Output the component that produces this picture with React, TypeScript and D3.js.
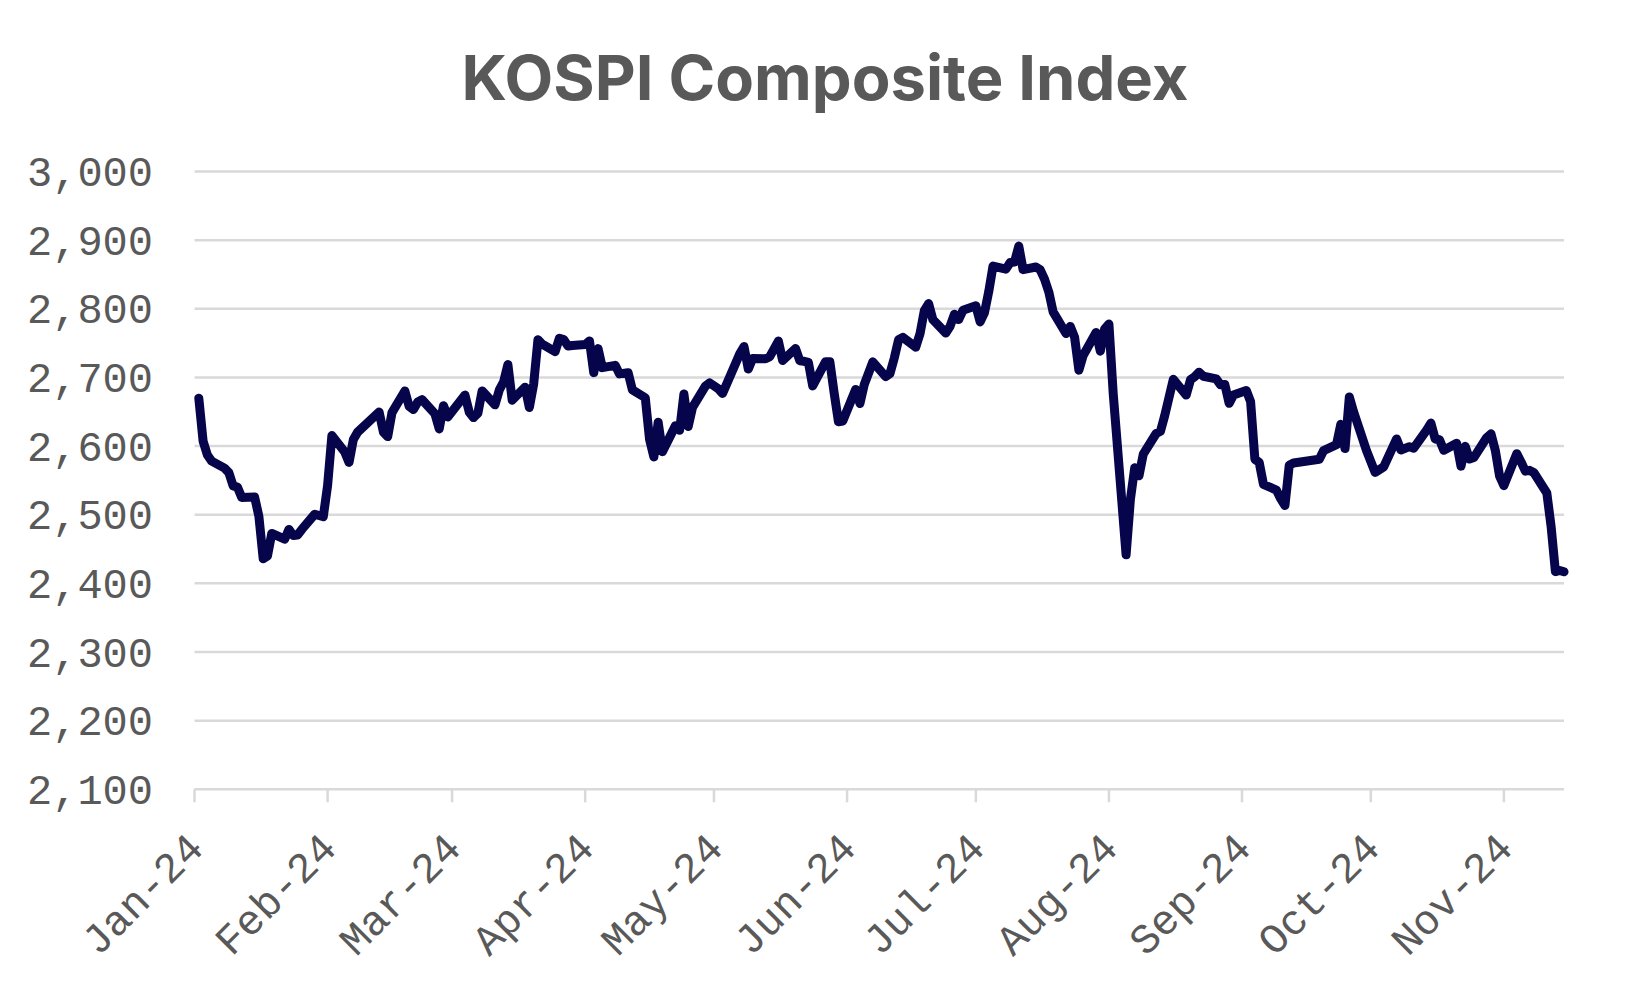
import React from "react";
import * as d3 from "d3";

// KOSPI daily closes, 2024 — [day of month, close]
const jan: [number, number][] = [
  [2, 2669.81], [3, 2607.31], [4, 2587.02], [5, 2578.08], [8, 2567.82], [9, 2561.24], [10, 2541.98],
  [11, 2540.27], [12, 2525.05], [15, 2525.99], [16, 2497.59], [17, 2435.9], [18, 2440.04], [19, 2472.74],
  [22, 2464.35], [23, 2478.61], [24, 2469.69], [25, 2470.34], [26, 2478.56], [29, 2500.65], [30, 2498.81],
  [31, 2497.09],
];
const feb: [number, number][] = [
  [1, 2542.46], [2, 2615.31], [5, 2591.31], [6, 2576.2], [7, 2609.58], [8, 2620.32], [13, 2649.64],
  [14, 2620.42], [15, 2613.8], [16, 2648.76], [19, 2680.26], [20, 2657.79], [21, 2653.31], [22, 2664.27],
  [23, 2667.7], [26, 2647.08], [27, 2625.05], [28, 2658.84], [29, 2642.36],
];
const mar: [number, number][] = [
  [4, 2674.27], [5, 2649.4], [6, 2641.49], [7, 2647.62], [8, 2680.35], [11, 2660.07], [12, 2681.81],
  [13, 2693.57], [14, 2718.76], [15, 2666.84], [18, 2685.84], [19, 2656.17], [20, 2690.14], [21, 2754.86],
  [22, 2748.56], [25, 2737.57], [26, 2757.09], [27, 2755.11], [28, 2745.82], [29, 2746.63],
];
const apr: [number, number][] = [
  [1, 2747.86], [2, 2753.16], [3, 2706.97], [4, 2742.0], [5, 2714.21], [8, 2717.65], [9, 2705.16],
  [11, 2706.96], [12, 2681.82], [15, 2670.43], [16, 2609.63], [17, 2584.18], [18, 2634.7], [19, 2591.86],
  [22, 2629.44], [23, 2623.02], [24, 2675.75], [25, 2628.62], [26, 2656.33], [29, 2687.44], [30, 2692.06],
];
const may: [number, number][] = [
  [2, 2683.65], [3, 2676.63], [7, 2734.36], [8, 2745.05], [9, 2712.14], [10, 2727.63], [13, 2727.21],
  [14, 2730.34], [16, 2753.0], [17, 2724.62], [20, 2742.14], [21, 2724.18], [22, 2723.46], [23, 2721.81],
  [24, 2687.6], [27, 2722.99], [28, 2722.85], [29, 2677.3], [30, 2635.44], [31, 2636.52],
];
const jun: [number, number][] = [
  [3, 2682.52], [4, 2662.1], [5, 2689.5], [7, 2722.67], [10, 2701.17], [11, 2705.63], [12, 2728.17],
  [13, 2754.89], [14, 2758.42], [17, 2744.1], [18, 2763.92], [19, 2797.33], [20, 2807.63], [21, 2784.06],
  [24, 2764.73], [25, 2774.39], [26, 2792.05], [27, 2784.26], [28, 2797.82],
];
const jul: [number, number][] = [
  [1, 2804.31], [2, 2780.86], [3, 2794.01], [4, 2824.94], [5, 2862.23], [8, 2857.76], [9, 2867.38],
  [10, 2867.99], [11, 2891.35], [12, 2857.0], [15, 2860.92], [16, 2856.82], [17, 2843.11], [18, 2824.35],
  [19, 2795.46], [22, 2763.98], [23, 2774.27], [24, 2758.71], [25, 2710.65], [26, 2731.9], [29, 2765.52],
  [30, 2738.19], [31, 2770.69],
];
const aug: [number, number][] = [
  [1, 2777.68], [2, 2676.19], [5, 2441.55], [6, 2522.15], [7, 2568.41], [8, 2556.73], [9, 2588.43],
  [12, 2618.3], [13, 2621.5], [14, 2644.5], [16, 2697.23], [19, 2674.36], [20, 2696.63], [21, 2701.13],
  [22, 2707.67], [23, 2701.69], [26, 2698.01], [27, 2689.25], [28, 2689.83], [29, 2662.28], [30, 2674.31],
];
const sep: [number, number][] = [
  [2, 2681.0], [3, 2664.63], [4, 2580.8], [5, 2576.26], [6, 2544.28], [9, 2535.93], [10, 2523.43],
  [11, 2513.37], [12, 2572.09], [13, 2575.41], [19, 2580.8], [20, 2593.37], [23, 2602.01], [24, 2631.68],
  [25, 2596.32], [26, 2671.57], [27, 2649.78], [30, 2593.27],
];
const oct: [number, number][] = [
  [2, 2561.69], [4, 2569.71], [7, 2610.38], [8, 2594.36], [10, 2599.16], [11, 2596.91], [14, 2623.29],
  [15, 2633.45], [16, 2610.36], [17, 2609.3], [18, 2593.94], [21, 2604.06], [22, 2570.7], [23, 2599.62],
  [24, 2581.03], [25, 2583.27], [28, 2612.43], [29, 2617.8], [30, 2593.79], [31, 2556.15],
];
const nov: [number, number][] = [
  [1, 2542.36], [4, 2588.97], [5, 2576.88], [6, 2563.51], [7, 2564.63], [8, 2561.15], [11, 2531.66],
  [12, 2482.57], [13, 2417.08], [14, 2418.86], [15, 2416.86],
];

const months = [jan, feb, mar, apr, may, jun, jul, aug, sep, oct, nov];
const monthLabels = ["Jan-24", "Feb-24", "Mar-24", "Apr-24", "May-24", "Jun-24", "Jul-24", "Aug-24", "Sep-24", "Oct-24", "Nov-24"];
const yTicks = [2100, 2200, 2300, 2400, 2500, 2600, 2700, 2800, 2900, 3000];
const title = "KOSPI Composite Index";

type Pt = { date: Date; value: number };
const series: Pt[] = months.flatMap((m, mi) => m.map(([d, v]) => ({ date: new Date(2024, mi, d), value: v })));

export default function App() {
  const W = 1650, H = 990;
  const left = 194.5, right = 1564, top = 171.5, bottom = 789.3;
  const x = d3.scaleTime().domain([new Date(2024, 0, 1), new Date(2024, 10, 15)]).range([left, right]);
  const y = d3.scaleLinear().domain([2100, 3000]).range([bottom, top]);
  const line = d3.line<Pt>().x((d) => x(d.date)).y((d) => y(d.value));
  const monthTicks = monthLabels.map((_, i) => new Date(2024, i, 1));
  const grey = "#595959";
  const gridColor = "#d9d9d9";
  const mono = "'Liberation Mono', 'DejaVu Sans Mono', monospace";
  return (
    <svg width={W} height={H} style={{ position: "absolute", left: 0, top: 0, display: "block" }}>
      <rect width={W} height={H} fill="#ffffff" />
      <text x={825} y={100} textAnchor="middle" fontFamily="Inter, Roboto, sans-serif" fontWeight={700}
        fontSize={62} fill={grey} textLength={727} lengthAdjust="spacingAndGlyphs">{title}</text>
      {yTicks.map((t) => (
        <g key={t}>
          <line x1={left} x2={right} y1={y(t)} y2={y(t)} stroke={gridColor} strokeWidth={2.5} />
          <text x={153} y={y(t)} dy="0.35em" textAnchor="end" fontFamily={mono} fontSize={42} fill={grey}>
            {d3.format(",")(t)}
          </text>
        </g>
      ))}
      {monthTicks.map((d, i) => (
        <g key={i}>
          <line x1={x(d)} x2={x(d)} y1={bottom} y2={bottom + 13} stroke={gridColor} strokeWidth={2.5} />
          <text transform={`translate(${x(d) + 11},${bottom + 61}) rotate(-45)`} textAnchor="end"
            fontFamily={mono} fontSize={42} fill={grey}>{monthLabels[i]}</text>
        </g>
      ))}
      <path d={line(series) || ""} fill="none" stroke="#06044a" strokeWidth={9}
        strokeLinejoin="round" strokeLinecap="round" />
    </svg>
  );
}
